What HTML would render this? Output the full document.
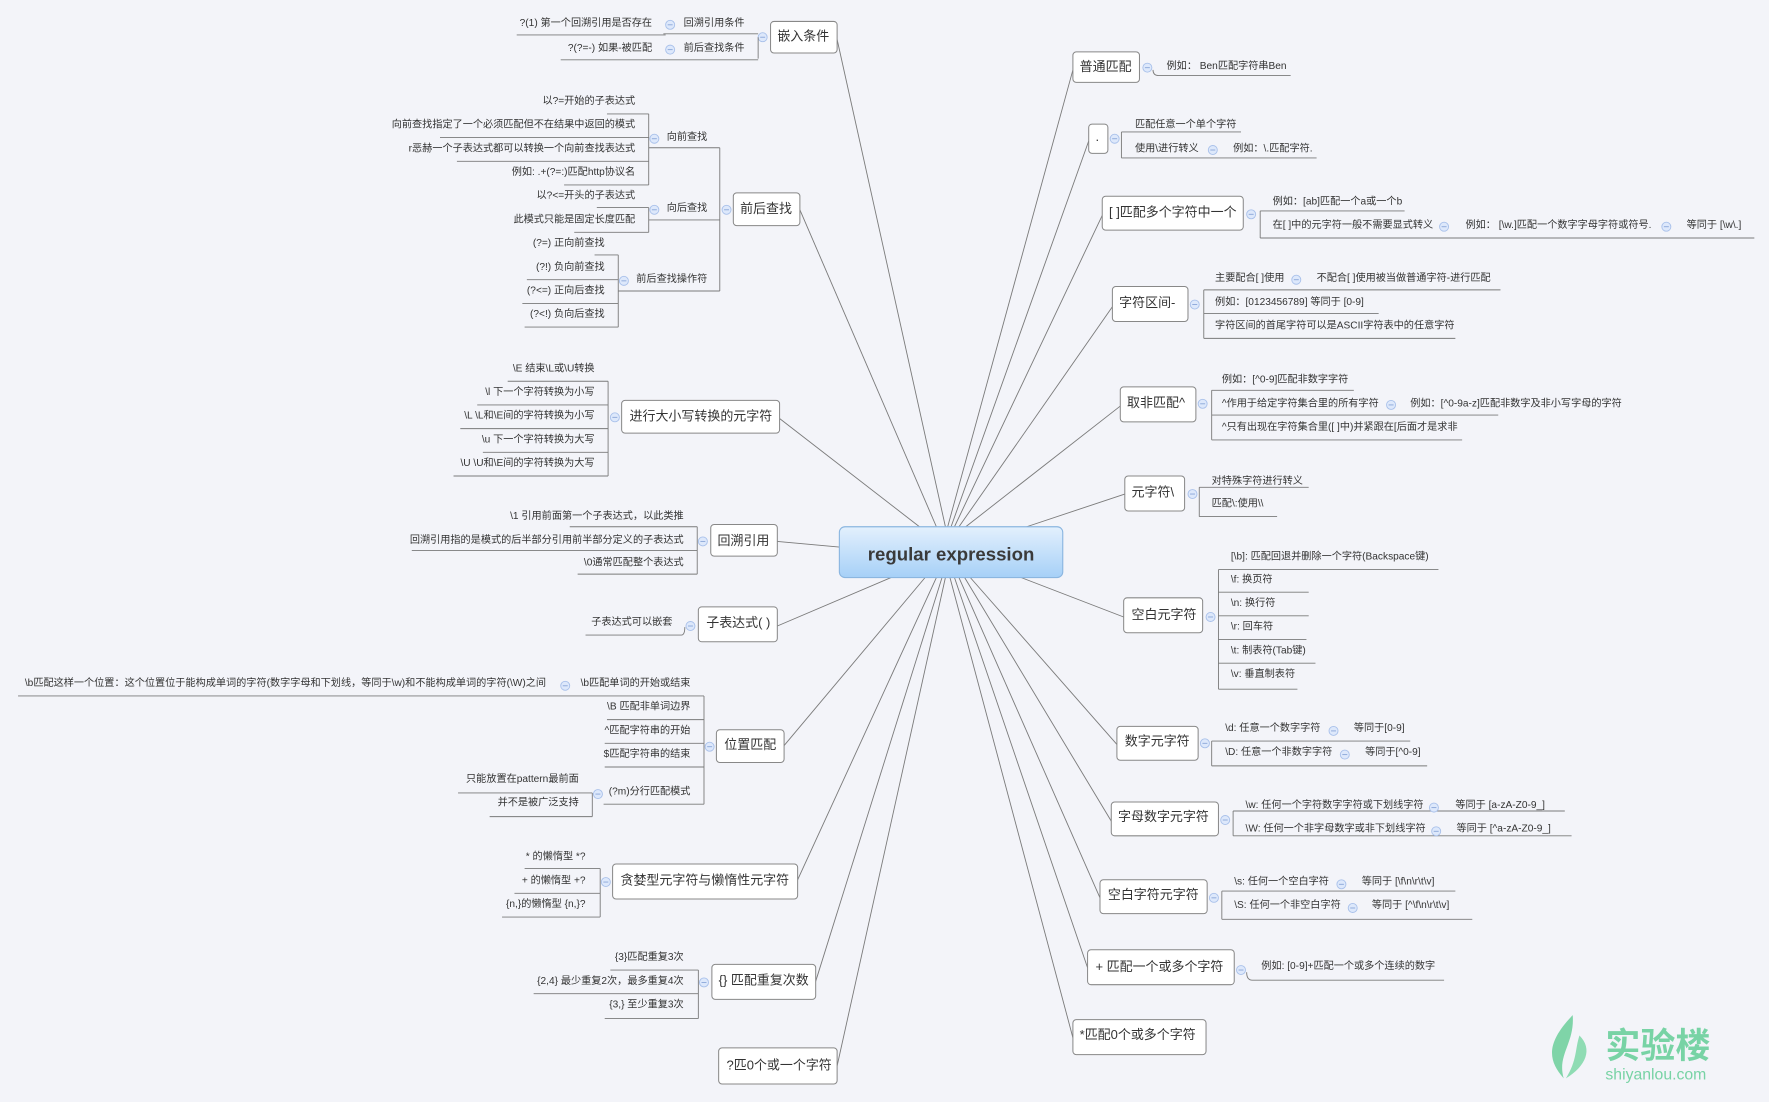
<!DOCTYPE html>
<html><head><meta charset="utf-8"><style>
html,body{margin:0;padding:0;background:#f3f4f9;}
svg{display:block}
text{font-family:"Liberation Sans","Noto Sans CJK SC",sans-serif;fill:#333;dominant-baseline:central}
.l{font-size:9px}
.n{font-size:11.5px}
.e{text-anchor:end}
.ln{stroke:#7a7a7a;stroke-width:.8;fill:none}
.b{fill:#fff;stroke:#888;stroke-width:.9}
.c{fill:#dde8fb;stroke:#a8c0ea;stroke-width:.8}
.m{stroke:#8aa6d8;stroke-width:.8}
</style></head><body>
<svg width="1769" height="1102" viewBox="0 0 1568 977" preserveAspectRatio="none" xmlns="http://www.w3.org/2000/svg">
<defs>
<linearGradient id="g" x1="0" y1="0" x2="0" y2="1"><stop offset="0" stop-color="#e3f0fd"/><stop offset="1" stop-color="#a6d0f7"/></linearGradient>
<g id="ci"><circle class="c" r="4"/><line class="m" x1="-2.2" y1="0" x2="2.2" y2="0"/></g>
</defs>
<rect width="1568" height="977" fill="#f3f4f9"/>

<g class="ln">
<line x1="742" y1="35" x2="838" y2="467"/>
<line x1="709" y1="186" x2="830" y2="467"/>
<line x1="691" y1="371" x2="815" y2="467"/>
<line x1="689" y1="480" x2="744" y2="485"/>
<line x1="689" y1="555" x2="790" y2="512"/>
<line x1="695" y1="661" x2="820" y2="512"/>
<line x1="707" y1="780" x2="830" y2="512"/>
<line x1="723" y1="870" x2="835" y2="512"/>
<line x1="742" y1="945" x2="838" y2="512"/>
<line x1="951" y1="62" x2="840" y2="467"/>
<line x1="965" y1="125" x2="843" y2="467"/>
<line x1="977" y1="191" x2="846" y2="467"/>
<line x1="986" y1="272" x2="850" y2="467"/>
<line x1="993" y1="360" x2="856" y2="467"/>
<line x1="997" y1="438" x2="910" y2="467"/>
<line x1="996" y1="547" x2="905" y2="512"/>
<line x1="990" y1="660" x2="860" y2="512"/>
<line x1="985" y1="728" x2="855" y2="512"/>
<line x1="975" y1="796" x2="850" y2="512"/>
<line x1="964" y1="858" x2="846" y2="512"/>
<line x1="951" y1="920" x2="842" y2="512"/>
</g>

<rect x="744" y="467" width="198" height="45" rx="5" fill="url(#g)" stroke="#8bb6e0"/>
<text x="843" y="491" style="font-size:16.5px;font-weight:bold;text-anchor:middle;fill:#3a3a3a">regular expression</text>

<g transform="translate(0,1)">
<rect class="b" x="683" y="18" width="59" height="28" rx="3"/><text class="n" x="689" y="31">嵌入条件</text>
<use href="#ci" x="676" y="32"/>
<path class="ln" d="M672 32 V51 M588 29 H672 M590 52 H672"/>
<text class="l" x="606" y="20">回溯引用条件</text><text class="l" x="606" y="42">前后查找条件</text>
<use href="#ci" x="594" y="21"/><use href="#ci" x="594" y="43"/>
<text class="l e" x="578" y="20">?(1) 第一个回溯引用是否存在</text>
<text class="l e" x="578" y="42">?(?=-) 如果-被匹配</text>
<path class="ln" d="M458 30 H590 M497 52 H590"/>

<rect class="b" x="650" y="170" width="59" height="29" rx="3"/><text class="n" x="656" y="184">前后查找</text>
<use href="#ci" x="644" y="185"/>
<path class="ln" d="M638 130 V257 M575 130 H638 M575 194 H638 M548 257 H638"/>
<text class="l" x="591" y="121">向前查找</text><text class="l" x="591" y="184">向后查找</text><text class="l" x="564" y="247">前后查找操作符</text>
<use href="#ci" x="580" y="122"/><use href="#ci" x="580" y="185"/><use href="#ci" x="553" y="248"/>
<path class="ln" d="M575 100 V163 M538 100 H575 M390 121 H575 M405 142 H575 M500 163 H575"/>
<text class="l e" x="563" y="89">以?=开始的子表达式</text>
<text class="l e" x="563" y="110">向前查找指定了一个必须匹配但不在结果中返回的模式</text>
<text class="l e" x="563" y="131">r恶赫一个子表达式都可以转换一个向前查找表达式</text>
<text class="l e" x="563" y="152">例如: .+(?=:)匹配http协议名</text>
<path class="ln" d="M575 183 V205 M529 183 H575 M509 205 H575"/>
<text class="l e" x="563" y="173">以?&lt;=开头的子表达式</text>
<text class="l e" x="563" y="194">此模式只能是固定长度匹配</text>
<path class="ln" d="M548 225 V289 M527 225 H548 M467 247 H548 M463 268 H548 M465 289 H548"/>
<text class="l e" x="536" y="215">(?=) 正向前查找</text>
<text class="l e" x="536" y="236">(?!) 负向前查找</text>
<text class="l e" x="536" y="257">(?&lt;=) 正向后查找</text>
<text class="l e" x="536" y="278">(?&lt;!) 负向后查找</text>

<rect class="b" x="551" y="354" width="140" height="29" rx="3"/><text class="n" x="558" y="368">进行大小写转换的元字符</text>
<use href="#ci" x="545" y="369"/>
<path class="ln" d="M539 337 V421 M450 337 H539 M423 358 H539 M408 379 H539 M428 400 H539 M402 421 H539"/>
<text class="l e" x="527" y="326">\E 结束\L或\U转换</text>
<text class="l e" x="527" y="347">\l 下一个字符转换为小写</text>
<text class="l e" x="527" y="368">\L \L和\E间的字符转换为小写</text>
<text class="l e" x="527" y="389">\u 下一个字符转换为大写</text>
<text class="l e" x="527" y="410">\U \U和\E间的字符转换为大写</text>

<rect class="b" x="630" y="464" width="59" height="28" rx="3"/><text class="n" x="636" y="478">回溯引用</text>
<use href="#ci" x="623" y="479"/>
<path class="ln" d="M618 466 V508 M505 466 H618 M365 487 H618 M512 508 H618"/>
<text class="l e" x="606" y="457">\1 引用前面第一个子表达式，以此类推</text>
<text class="l e" x="606" y="478">回溯引用指的是模式的后半部分引用前半部分定义的子表达式</text>
<text class="l e" x="606" y="498">\0通常匹配整个表达式</text>

<rect class="b" x="619" y="537" width="70" height="31" rx="3"/><text class="n" x="626" y="551">子表达式( )</text>
<use href="#ci" x="612" y="554"/>
<path class="ln" d="M519 562 H604 Q607 562 607 555"/>
<text class="l e" x="596" y="551">子表达式可以嵌套</text>

<rect class="b" x="635" y="646" width="60" height="29" rx="3"/><text class="n" x="642" y="659">位置匹配</text>
<use href="#ci" x="629" y="661"/>
<path class="ln" d="M624 616 V712 M16 616 H624 M538 637 H624 M536 658 H624 M536 679 H624 M535 712 H624"/>
<text class="l e" x="612" y="605">\b匹配单词的开始或结束</text>
<use href="#ci" x="501" y="607"/>
<text class="l e" x="484" y="605">\b匹配这样一个位置：这个位置位于能构成单词的字符(数字字母和下划线，等同于\w)和不能构成单词的字符(\W)之间</text>
<text class="l e" x="612" y="626">\B 匹配非单词边界</text>
<text class="l e" x="612" y="647">^匹配字符串的开始</text>
<text class="l e" x="612" y="668">$匹配字符串的结束</text>
<text class="l e" x="612" y="701">(?m)分行匹配模式</text>
<use href="#ci" x="530" y="703"/>
<path class="ln" d="M525 702 V723 M406 702 H525 M434 723 H525"/>
<text class="l e" x="513" y="690">只能放置在pattern最前面</text>
<text class="l e" x="513" y="711">并不是被广泛支持</text>

<rect class="b" x="543" y="765" width="164" height="31" rx="3"/><text class="n" x="550" y="779">贪婪型元字符与懒惰性元字符</text>
<use href="#ci" x="537" y="781"/>
<path class="ln" d="M532 769 V812 M465 769 H532 M456 791 H532 M445 812 H532"/>
<text class="l e" x="519" y="759">* 的懒惰型 *?</text>
<text class="l e" x="519" y="780">+ 的懒惰型 +?</text>
<text class="l e" x="519" y="801">{n,}的懒惰型 {n,}?</text>

<rect class="b" x="631" y="854" width="92" height="31" rx="3"/><text class="n" x="637" y="868">{} 匹配重复次数</text>
<use href="#ci" x="624" y="870"/>
<path class="ln" d="M619 859 V902 M541 859 H619 M473 880 H619 M536 902 H619"/>
<text class="l e" x="606" y="848">{3}匹配重复3次</text>
<text class="l e" x="606" y="869">{2,4} 最少重复2次，最多重复4次</text>
<text class="l e" x="606" y="890">{3,} 至少重复3次</text>

<rect class="b" x="637" y="928" width="105" height="32" rx="3"/><text class="n" x="644" y="943">?匹0个或一个字符</text>

<rect class="b" x="951" y="45" width="59" height="27" rx="3"/><text class="n" x="957" y="58">普通匹配</text>
<use href="#ci" x="1017" y="59"/>
<path class="ln" d="M1022 61 Q1022 66 1027 66 H1144"/>
<text class="l" x="1034" y="58">例如： Ben匹配字符串Ben</text>

<rect class="b" x="965" y="109" width="17" height="26" rx="3"/><text class="n" x="971" y="120">.</text>
<use href="#ci" x="988" y="122"/>
<path class="ln" d="M994 116 V139 M994 116 H1100 M994 139 H1167"/>
<text class="l" x="1006" y="110">匹配任意一个单个字符</text>
<text class="l" x="1006" y="131">使用\进行转义</text>
<use href="#ci" x="1075" y="132"/>
<text class="l" x="1093" y="131">例如：\.匹配字符.</text>

<rect class="b" x="977" y="173" width="125" height="30" rx="3"/><text class="n" x="983" y="187">[ ]匹配多个字符中一个</text>
<use href="#ci" x="1109" y="189"/>
<path class="ln" d="M1117 186 V210 M1117 186 H1245 M1117 210 H1555"/>
<text class="l" x="1128" y="178">例如：[ab]匹配一个a或一个b</text>
<text class="l" x="1128" y="199">在[ ]中的元字符一般不需要显式转义</text>
<use href="#ci" x="1280" y="200"/>
<text class="l" x="1299" y="199">例如： [\w.]匹配一个数字字母字符或符号.</text>
<use href="#ci" x="1477" y="200"/>
<text class="l" x="1495" y="199">等同于 [\w\.]</text>

<rect class="b" x="986" y="253" width="67" height="31" rx="3"/><text class="n" x="992" y="267">字符区间-</text>
<use href="#ci" x="1059" y="269"/>
<path class="ln" d="M1067 256 V299 M1067 256 H1330 M1067 277 H1222 M1067 299 H1290"/>
<text class="l" x="1077" y="246">主要配合[ ]使用</text>
<use href="#ci" x="1149" y="247"/>
<text class="l" x="1167" y="246">不配合[ ]使用被当做普通字符-进行匹配</text>
<text class="l" x="1077" y="267">例如：[0123456789] 等同于 [0-9]</text>
<text class="l" x="1077" y="288">字符区间的首尾字符可以是ASCII字符表中的任意字符</text>

<rect class="b" x="993" y="342" width="67" height="31" rx="3"/><text class="n" x="999" y="356">取非匹配^</text>
<use href="#ci" x="1066" y="357"/>
<path class="ln" d="M1074 345 V389 M1074 345 H1200 M1074 367 H1328 M1074 389 H1296"/>
<text class="l" x="1083" y="336">例如：[^0-9]匹配非数字字符</text>
<text class="l" x="1083" y="357">^作用于给定字符集合里的所有字符</text>
<use href="#ci" x="1233" y="358"/>
<text class="l" x="1250" y="357">例如：[^0-9a-z]匹配非数字及非小写字母的字符</text>
<text class="l" x="1083" y="378">^只有出现在字符集合里([ ]中)并紧跟在[后面才是求非</text>

<rect class="b" x="997" y="421" width="53" height="31" rx="3"/><text class="n" x="1003" y="435">元字符\</text>
<use href="#ci" x="1057" y="437"/>
<path class="ln" d="M1063 431 V457 M1063 431 H1160 M1063 457 H1132"/>
<text class="l" x="1074" y="426">对特殊字符进行转义</text>
<text class="l" x="1074" y="446">匹配\:使用\\</text>

<rect class="b" x="996" y="529" width="70" height="31" rx="3"/><text class="n" x="1003" y="544">空白元字符</text>
<use href="#ci" x="1073" y="546"/>
<path class="ln" d="M1080 504 V610 M1080 504 H1275 M1080 524 H1160 M1080 545 H1160 M1080 566 H1158 M1080 587 H1166 M1080 610 H1150"/>
<text class="l" x="1091" y="493">[\b]: 匹配回退并删除一个字符(Backspace键)</text>
<text class="l" x="1091" y="513">\f: 换页符</text>
<text class="l" x="1091" y="534">\n: 换行符</text>
<text class="l" x="1091" y="555">\r: 回车符</text>
<text class="l" x="1091" y="576">\t: 制表符(Tab键)</text>
<text class="l" x="1091" y="597">\v: 垂直制表符</text>

<rect class="b" x="990" y="643" width="72" height="30" rx="3"/><text class="n" x="997" y="656">数字元字符</text>
<use href="#ci" x="1068" y="658"/>
<path class="ln" d="M1074 656 V678 M1074 656 H1250 M1074 678 H1265"/>
<text class="l" x="1086" y="645">\d: 任意一个数字字符</text><use href="#ci" x="1182" y="647"/><text class="l" x="1200" y="645">等同于[0-9]</text>
<text class="l" x="1086" y="666">\D: 任意一个非数字字符</text><use href="#ci" x="1192" y="668"/><text class="l" x="1210" y="666">等同于[^0-9]</text>

<rect class="b" x="985" y="710" width="95" height="30" rx="3"/><text class="n" x="991" y="723">字母数字元字符</text>
<use href="#ci" x="1086" y="726"/>
<path class="ln" d="M1093 718 V740 M1093 718 H1387 M1093 740 H1393"/>
<text class="l" x="1104" y="713">\w: 任何一个字符数字字符或下划线字符</text><use href="#ci" x="1271" y="715"/><text class="l" x="1290" y="713">等同于 [a-zA-Z0-9_]</text>
<text class="l" x="1104" y="734">\W: 任何一个非字母数字或非下划线字符</text><use href="#ci" x="1273" y="736"/><text class="l" x="1291" y="734">等同于 [^a-zA-Z0-9_]</text>

<rect class="b" x="975" y="779" width="95" height="30" rx="3"/><text class="n" x="982" y="792">空白字符元字符</text>
<use href="#ci" x="1076" y="795"/>
<path class="ln" d="M1083 789 V814 M1083 789 H1290 M1083 814 H1305"/>
<text class="l" x="1094" y="781">\s: 任何一个空白字符</text><use href="#ci" x="1189" y="783"/><text class="l" x="1207" y="781">等同于 [\f\n\r\t\v]</text>
<text class="l" x="1094" y="802">\S: 任何一个非空白字符</text><use href="#ci" x="1199" y="804"/><text class="l" x="1216" y="802">等同于 [^\f\n\r\t\v]</text>

<rect class="b" x="964" y="841" width="130" height="31" rx="3"/><text class="n" x="971" y="856">+ 匹配一个或多个字符</text>
<use href="#ci" x="1100" y="859"/>
<path class="ln" d="M1105 861 Q1105 868 1110 868 H1280"/>
<text class="l" x="1118" y="856">例如: [0-9]+匹配一个或多个连续的数字</text>

<rect class="b" x="951" y="903" width="118" height="31" rx="3"/><text class="n" x="957" y="916">*匹配0个或多个字符</text>
</g>

<path d="M1394 900 C1370 925 1372 940 1386 956 C1380 935 1396 925 1394 900 Z" fill="#7fd4a8"/>
<path d="M1400 918 C1412 930 1406 945 1388 956 C1398 940 1396 930 1400 918 Z" fill="#8fdcb4"/>
<text x="1423" y="928" style="font-size:31px;font-weight:bold;fill:#78d3a5">实验楼</text>
<text x="1423" y="953" style="font-size:14px;fill:#78d3a5">shiyanlou.com</text>
</svg>
</body></html>
